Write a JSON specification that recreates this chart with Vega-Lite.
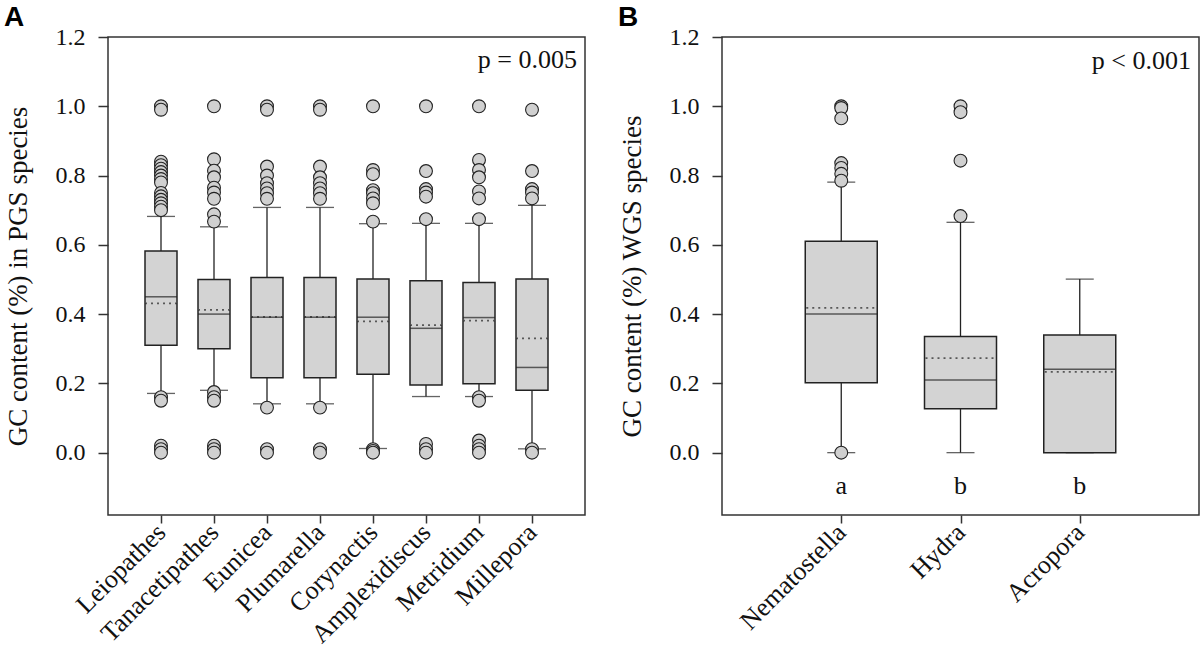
{
  "$schema": "https://vega.github.io/schema/vega-lite/v6.json",
  "padding": {"left": 3, "right": 1, "top": 3, "bottom": 0},
  "spacing": 31,
  "datasets": {
    "statsA": [
      {"species": "Leiopathes", "lo": 0.171, "q1": 0.31, "med": 0.45, "q3": 0.582, "hi": 0.682, "mean": 0.431},
      {"species": "Tanacetipathes", "lo": 0.18, "q1": 0.30, "med": 0.40, "q3": 0.50, "hi": 0.652, "mean": 0.412},
      {"species": "Eunicea", "lo": 0.141, "q1": 0.216, "med": 0.391, "q3": 0.506, "hi": 0.708, "mean": 0.392},
      {"species": "Plumarella", "lo": 0.141, "q1": 0.216, "med": 0.391, "q3": 0.506, "hi": 0.708, "mean": 0.392},
      {"species": "Corynactis", "lo": 0.012, "q1": 0.226, "med": 0.391, "q3": 0.501, "hi": 0.661, "mean": 0.379},
      {"species": "Amplexidiscus", "lo": 0.162, "q1": 0.195, "med": 0.359, "q3": 0.496, "hi": 0.662, "mean": 0.368},
      {"species": "Metridium", "lo": 0.162, "q1": 0.199, "med": 0.39, "q3": 0.491, "hi": 0.662, "mean": 0.381},
      {"species": "Millepora", "lo": 0.011, "q1": 0.18, "med": 0.246, "q3": 0.501, "hi": 0.714, "mean": 0.33}
    ],
    "outA": [
      {"species": "Leiopathes", "gc": 1.0}, {"species": "Leiopathes", "gc": 0.99},
      {"species": "Leiopathes", "gc": 0.84}, {"species": "Leiopathes", "gc": 0.83}, {"species": "Leiopathes", "gc": 0.82},
      {"species": "Leiopathes", "gc": 0.81}, {"species": "Leiopathes", "gc": 0.80}, {"species": "Leiopathes", "gc": 0.79},
      {"species": "Leiopathes", "gc": 0.78}, {"species": "Leiopathes", "gc": 0.75}, {"species": "Leiopathes", "gc": 0.74},
      {"species": "Leiopathes", "gc": 0.73}, {"species": "Leiopathes", "gc": 0.72}, {"species": "Leiopathes", "gc": 0.71},
      {"species": "Leiopathes", "gc": 0.70}, {"species": "Leiopathes", "gc": 0.16}, {"species": "Leiopathes", "gc": 0.15},
      {"species": "Leiopathes", "gc": 0.02}, {"species": "Leiopathes", "gc": 0.01}, {"species": "Leiopathes", "gc": 0.0},
      {"species": "Tanacetipathes", "gc": 1.0}, {"species": "Tanacetipathes", "gc": 0.847}, {"species": "Tanacetipathes", "gc": 0.814},
      {"species": "Tanacetipathes", "gc": 0.795}, {"species": "Tanacetipathes", "gc": 0.765}, {"species": "Tanacetipathes", "gc": 0.751},
      {"species": "Tanacetipathes", "gc": 0.733}, {"species": "Tanacetipathes", "gc": 0.688}, {"species": "Tanacetipathes", "gc": 0.667},
      {"species": "Tanacetipathes", "gc": 0.175}, {"species": "Tanacetipathes", "gc": 0.16}, {"species": "Tanacetipathes", "gc": 0.15},
      {"species": "Tanacetipathes", "gc": 0.02}, {"species": "Tanacetipathes", "gc": 0.01}, {"species": "Tanacetipathes", "gc": 0.0},
      {"species": "Eunicea", "gc": 1.0}, {"species": "Eunicea", "gc": 0.99}, {"species": "Eunicea", "gc": 0.826},
      {"species": "Eunicea", "gc": 0.80}, {"species": "Eunicea", "gc": 0.778}, {"species": "Eunicea", "gc": 0.763},
      {"species": "Eunicea", "gc": 0.749}, {"species": "Eunicea", "gc": 0.733}, {"species": "Eunicea", "gc": 0.13},
      {"species": "Eunicea", "gc": 0.01}, {"species": "Eunicea", "gc": 0.0},
      {"species": "Plumarella", "gc": 1.0}, {"species": "Plumarella", "gc": 0.99}, {"species": "Plumarella", "gc": 0.826},
      {"species": "Plumarella", "gc": 0.795}, {"species": "Plumarella", "gc": 0.778}, {"species": "Plumarella", "gc": 0.763},
      {"species": "Plumarella", "gc": 0.749}, {"species": "Plumarella", "gc": 0.733}, {"species": "Plumarella", "gc": 0.13},
      {"species": "Plumarella", "gc": 0.01}, {"species": "Plumarella", "gc": 0.0},
      {"species": "Corynactis", "gc": 1.0}, {"species": "Corynactis", "gc": 0.816}, {"species": "Corynactis", "gc": 0.804},
      {"species": "Corynactis", "gc": 0.758}, {"species": "Corynactis", "gc": 0.749}, {"species": "Corynactis", "gc": 0.734},
      {"species": "Corynactis", "gc": 0.72}, {"species": "Corynactis", "gc": 0.667}, {"species": "Corynactis", "gc": 0.01},
      {"species": "Corynactis", "gc": 0.005}, {"species": "Corynactis", "gc": 0.0},
      {"species": "Amplexidiscus", "gc": 1.0}, {"species": "Amplexidiscus", "gc": 0.813}, {"species": "Amplexidiscus", "gc": 0.761},
      {"species": "Amplexidiscus", "gc": 0.751}, {"species": "Amplexidiscus", "gc": 0.739}, {"species": "Amplexidiscus", "gc": 0.674},
      {"species": "Amplexidiscus", "gc": 0.025}, {"species": "Amplexidiscus", "gc": 0.01}, {"species": "Amplexidiscus", "gc": 0.0},
      {"species": "Metridium", "gc": 1.0}, {"species": "Metridium", "gc": 0.845}, {"species": "Metridium", "gc": 0.816},
      {"species": "Metridium", "gc": 0.795}, {"species": "Metridium", "gc": 0.754}, {"species": "Metridium", "gc": 0.734},
      {"species": "Metridium", "gc": 0.674}, {"species": "Metridium", "gc": 0.16}, {"species": "Metridium", "gc": 0.15},
      {"species": "Metridium", "gc": 0.035}, {"species": "Metridium", "gc": 0.02}, {"species": "Metridium", "gc": 0.01},
      {"species": "Metridium", "gc": 0.0},
      {"species": "Millepora", "gc": 0.99}, {"species": "Millepora", "gc": 0.813}, {"species": "Millepora", "gc": 0.761},
      {"species": "Millepora", "gc": 0.751}, {"species": "Millepora", "gc": 0.734}, {"species": "Millepora", "gc": 0.01},
      {"species": "Millepora", "gc": 0.0}
    ],
    "statsB": [
      {"species": "Nematostella", "lo": 0.0, "q1": 0.202, "med": 0.40, "q3": 0.61, "hi": 0.781, "mean": 0.418, "letter": "a"},
      {"species": "Hydra", "lo": 0.0, "q1": 0.127, "med": 0.21, "q3": 0.335, "hi": 0.665, "mean": 0.273, "letter": "b"},
      {"species": "Acropora", "lo": 0.0, "q1": 0.0, "med": 0.241, "q3": 0.34, "hi": 0.501, "mean": 0.233, "letter": "b"}
    ],
    "outB": [
      {"species": "Nematostella", "gc": 1.0}, {"species": "Nematostella", "gc": 0.995}, {"species": "Nematostella", "gc": 0.965},
      {"species": "Nematostella", "gc": 0.836}, {"species": "Nematostella", "gc": 0.822}, {"species": "Nematostella", "gc": 0.805},
      {"species": "Nematostella", "gc": 0.785}, {"species": "Nematostella", "gc": 0.0},
      {"species": "Hydra", "gc": 1.0}, {"species": "Hydra", "gc": 0.983}, {"species": "Hydra", "gc": 0.843}, {"species": "Hydra", "gc": 0.683}
    ]
  },
  "config": {
    "view": {"stroke": "#333", "strokeWidth": 1.5},
    "axis": {
      "labelFont": "Liberation Serif", "labelFontSize": 24, "labelColor": "#111",
      "titleFont": "Liberation Serif", "titleFontSize": 27, "titleFontWeight": "normal", "titleColor": "#111",
      "tickColor": "#333", "tickWidth": 1.5, "domainColor": "#333", "domainWidth": 1.5, "grid": false
    },
    "title": {"font": "Liberation Sans", "fontSize": 28, "fontWeight": "bold", "color": "#000", "anchor": "start", "frame": "bounds", "offset": -7}
  },
  "hconcat": [
    {
      "title": "A",
      "width": 477,
      "height": 478,
      "layer": [
        {
          "data": {"name": "statsA"},
          "mark": {"type": "rule", "color": "#222", "strokeWidth": 1.3},
          "encoding": {
            "x": {"field": "species", "type": "nominal", "sort": null,
              "scale": {"type": "point", "padding": 1},
              "axis": {"title": null, "labelAngle": -45, "labelFontSize": 26, "labelBaseline": "middle", "tickSize": 8, "labelPadding": 5, "domain": false}},
            "y": {"field": "lo", "type": "quantitative",
              "scale": {"domain": [-0.18, 1.2], "nice": false, "zero": false},
              "axis": {"title": "GC content (%) in PGS species", "values": [0, 0.2, 0.4, 0.6, 0.8, 1.0, 1.2], "format": ".1f", "tickSize": 10, "labelPadding": 13, "titlePadding": 23, "domain": false}},
            "y2": {"field": "hi"}
          }
        },
        {
          "data": {"name": "statsA"},
          "mark": {"type": "bar", "width": 32, "fill": "#d3d3d3", "stroke": "#222", "strokeWidth": 1.5},
          "encoding": {
            "x": {"field": "species", "type": "nominal", "sort": null},
            "y": {"field": "q1", "type": "quantitative"},
            "y2": {"field": "q3"}
          }
        },
        {
          "data": {"name": "statsA"},
          "mark": {"type": "tick", "size": 32, "thickness": 1.5, "color": "#222", "orient": "horizontal"},
          "encoding": {
            "x": {"field": "species", "type": "nominal", "sort": null},
            "y": {"field": "med", "type": "quantitative"}
          }
        },
        {
          "data": {"name": "statsA"},
          "mark": {"type": "tick", "size": 30, "thickness": 0.01, "fill": null, "stroke": "#222", "strokeWidth": 1.8, "strokeDash": [1, 5], "orient": "horizontal"},
          "encoding": {
            "x": {"field": "species", "type": "nominal", "sort": null},
            "y": {"field": "mean", "type": "quantitative"}
          }
        },
        {
          "data": {"name": "statsA"},
          "mark": {"type": "tick", "size": 28, "thickness": 1.3, "color": "#222", "orient": "horizontal"},
          "encoding": {
            "x": {"field": "species", "type": "nominal", "sort": null},
            "y": {"field": "hi", "type": "quantitative"}
          }
        },
        {
          "data": {"name": "statsA"},
          "mark": {"type": "tick", "size": 28, "thickness": 1.3, "color": "#222", "orient": "horizontal"},
          "encoding": {
            "x": {"field": "species", "type": "nominal", "sort": null},
            "y": {"field": "lo", "type": "quantitative"}
          }
        },
        {
          "data": {"name": "outA"},
          "mark": {"type": "point", "shape": "circle", "size": 165, "filled": true, "fill": "#d0d0d0", "fillOpacity": 1, "stroke": "#222", "strokeWidth": 1.1, "opacity": 1},
          "encoding": {
            "x": {"field": "species", "type": "nominal", "sort": null},
            "y": {"field": "gc", "type": "quantitative"}
          }
        },
        {
          "data": {"values": [{"label": "p = 0.005"}]},
          "mark": {"type": "text", "font": "Liberation Serif", "fontSize": 26, "align": "right", "baseline": "middle", "dx": -8, "color": "#111"},
          "encoding": {
            "x": {"value": "width"},
            "y": {"datum": 1.135},
            "text": {"field": "label"}
          }
        }
      ]
    },
    {
      "title": "B",
      "width": 477,
      "height": 478,
      "layer": [
        {
          "data": {"name": "statsB"},
          "mark": {"type": "rule", "color": "#222", "strokeWidth": 1.3},
          "encoding": {
            "x": {"field": "species", "type": "nominal", "sort": null,
              "scale": {"type": "point", "padding": 1},
              "axis": {"title": null, "labelAngle": -45, "labelFontSize": 26, "labelBaseline": "middle", "tickSize": 8, "labelPadding": 5, "domain": false}},
            "y": {"field": "lo", "type": "quantitative",
              "scale": {"domain": [-0.18, 1.2], "nice": false, "zero": false},
              "axis": {"title": "GC content (%) WGS species", "values": [0, 0.2, 0.4, 0.6, 0.8, 1.0, 1.2], "format": ".1f", "tickSize": 10, "labelPadding": 13, "titlePadding": 23, "domain": false}},
            "y2": {"field": "hi"}
          }
        },
        {
          "data": {"name": "statsB"},
          "mark": {"type": "bar", "width": 72, "fill": "#d3d3d3", "stroke": "#222", "strokeWidth": 1.5},
          "encoding": {
            "x": {"field": "species", "type": "nominal", "sort": null},
            "y": {"field": "q1", "type": "quantitative"},
            "y2": {"field": "q3"}
          }
        },
        {
          "data": {"name": "statsB"},
          "mark": {"type": "tick", "size": 72, "thickness": 1.5, "color": "#222", "orient": "horizontal"},
          "encoding": {
            "x": {"field": "species", "type": "nominal", "sort": null},
            "y": {"field": "med", "type": "quantitative"}
          }
        },
        {
          "data": {"name": "statsB"},
          "mark": {"type": "tick", "size": 70, "thickness": 0.01, "fill": null, "stroke": "#222", "strokeWidth": 1.8, "strokeDash": [1, 5], "orient": "horizontal"},
          "encoding": {
            "x": {"field": "species", "type": "nominal", "sort": null},
            "y": {"field": "mean", "type": "quantitative"}
          }
        },
        {
          "data": {"name": "statsB"},
          "mark": {"type": "tick", "size": 28, "thickness": 1.3, "color": "#222", "orient": "horizontal"},
          "encoding": {
            "x": {"field": "species", "type": "nominal", "sort": null},
            "y": {"field": "hi", "type": "quantitative"}
          }
        },
        {
          "data": {"name": "statsB"},
          "mark": {"type": "tick", "size": 28, "thickness": 1.3, "color": "#222", "orient": "horizontal"},
          "encoding": {
            "x": {"field": "species", "type": "nominal", "sort": null},
            "y": {"field": "lo", "type": "quantitative"}
          }
        },
        {
          "data": {"name": "outB"},
          "mark": {"type": "point", "shape": "circle", "size": 165, "filled": true, "fill": "#d0d0d0", "fillOpacity": 1, "stroke": "#222", "strokeWidth": 1.1, "opacity": 1},
          "encoding": {
            "x": {"field": "species", "type": "nominal", "sort": null},
            "y": {"field": "gc", "type": "quantitative"}
          }
        },
        {
          "data": {"name": "statsB"},
          "mark": {"type": "text", "font": "Liberation Serif", "fontSize": 26, "align": "center", "baseline": "middle", "color": "#111"},
          "encoding": {
            "x": {"field": "species", "type": "nominal", "sort": null},
            "y": {"datum": -0.095},
            "text": {"field": "letter"}
          }
        },
        {
          "data": {"values": [{"label": "p < 0.001"}]},
          "mark": {"type": "text", "font": "Liberation Serif", "fontSize": 26, "align": "right", "baseline": "middle", "dx": -8, "color": "#111"},
          "encoding": {
            "x": {"value": "width"},
            "y": {"datum": 1.13},
            "text": {"field": "label"}
          }
        }
      ]
    }
  ]
}
